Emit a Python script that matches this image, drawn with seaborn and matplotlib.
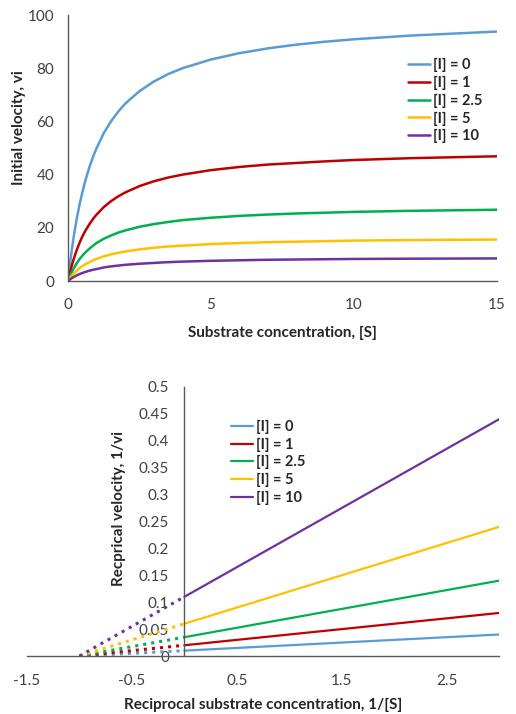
import numpy as np
import pandas as pd
import matplotlib
matplotlib.use("Agg")
import matplotlib.pyplot as plt
import seaborn as sns

# series labels and colours (Excel default palette)
labels = ["[I] = 0", "[I] = 1", "[I] = 2.5", "[I] = 5", "[I] = 10"]
colors = ["#5B9BD5", "#C00000", "#00B050", "#FFC000", "#7030A0"]

# top panel: initial velocity vs substrate concentration
s_vals = [0, 0.05, 0.1, 0.15, 0.2, 0.3, 0.4, 0.5, 0.6, 0.75, 0.9, 1, 1.25, 1.5, 1.75,
          2, 2.5, 3, 3.5, 4, 5, 6, 7, 8, 9, 10, 12, 15]
v_i0 = [0, 4.8, 9.1, 13.0, 16.7, 23.1, 28.6, 33.3, 37.5, 42.9, 47.4, 50.0, 55.6, 60.0, 63.6,
        66.7, 71.4, 75.0, 77.8, 80.0, 83.3, 85.7, 87.5, 88.9, 90.0, 90.9, 92.3, 93.8]
v_i1 = [0, 2.4, 4.5, 6.5, 8.3, 11.5, 14.3, 16.7, 18.8, 21.4, 23.7, 25.0, 27.8, 30.0, 31.8,
        33.3, 35.7, 37.5, 38.9, 40.0, 41.7, 42.9, 43.8, 44.4, 45.0, 45.5, 46.2, 46.9]
v_i25 = [0, 1.4, 2.6, 3.7, 4.8, 6.6, 8.2, 9.5, 10.7, 12.2, 13.5, 14.3, 15.9, 17.1, 18.2,
         19.0, 20.4, 21.4, 22.2, 22.9, 23.8, 24.5, 25.0, 25.4, 25.7, 26.0, 26.4, 26.8]
v_i5 = [0, 0.8, 1.5, 2.2, 2.8, 3.8, 4.8, 5.6, 6.3, 7.1, 7.9, 8.3, 9.3, 10.0, 10.6,
        11.1, 11.9, 12.5, 13.0, 13.3, 13.9, 14.3, 14.6, 14.8, 15.0, 15.2, 15.4, 15.6]
v_i10 = [0, 0.4, 0.8, 1.2, 1.5, 2.1, 2.6, 3.0, 3.4, 3.9, 4.3, 4.5, 5.1, 5.5, 5.8,
         6.1, 6.5, 6.8, 7.1, 7.3, 7.6, 7.8, 8.0, 8.1, 8.2, 8.3, 8.4, 8.5]

# bottom panel: Lineweaver-Burk (solid data, dotted extrapolation)
inv_s_solid = [0, 3]
inv_v_solid = [[0.01, 0.04], [0.02, 0.08], [0.035, 0.14], [0.06, 0.24], [0.11, 0.44]]
inv_s_extrap = [-1, 0]
inv_v_extrap = [[0, 0.01], [0, 0.02], [0, 0.035], [0, 0.06], [0, 0.11]]

sns.set_theme(style="white")
plt.rcParams["font.family"] = ["Lato", "DejaVu Sans"]

fig = plt.figure(figsize=(5.16, 7.14), dpi=100)
ax1 = fig.add_axes([0.1318, 0.6064, 0.8314, 0.3725])
ax2 = fig.add_axes([0.0523, 0.0812, 0.9147, 0.3768])

rows = []
for lab, vals in zip(labels, [v_i0, v_i1, v_i25, v_i5, v_i10]):
    for s, v in zip(s_vals, vals):
        rows.append({"S": s, "v": v, "series": lab})
df_top = pd.DataFrame(rows)

sns.lineplot(data=df_top, x="S", y="v", hue="series", hue_order=labels,
             palette=colors, estimator=None, sort=False, linewidth=1.8, ax=ax1)
ax1.set_xlim(0, 15)
ax1.set_ylim(0, 100)
ax1.set_xticks([0, 5, 10, 15])
ax1.set_yticks(range(0, 101, 20))
ax1.set_xlabel("Substrate concentration, [S]", fontsize=11, fontweight="bold", labelpad=10)
ax1.set_ylabel("Initial velocity, vi", fontsize=11, fontweight="bold")
ax1.yaxis.set_label_coords(-0.098, 0.575)
ax1.legend(loc="upper left", bbox_to_anchor=(0.78, 0.86), frameon=False,
           prop={"weight": "bold", "size": 10.5}, handlelength=1.5, handletextpad=0.2,
           labelspacing=0.25, borderaxespad=0)

for sp in ["top", "right"]:
    ax1.spines[sp].set_visible(False)
for sp in ["left", "bottom"]:
    ax1.spines[sp].set_color("#595959")
    ax1.spines[sp].set_linewidth(1.0)
ax1.tick_params(axis="both", length=0, labelsize=11, colors="#404040")
ax1.tick_params(axis="x", pad=12)
ax1.tick_params(axis="y", pad=10)

# bottom panel
for i, (lab, col) in enumerate(zip(labels, colors)):
    sns.lineplot(x=inv_s_extrap, y=inv_v_extrap[i], color=col, linestyle=":",
                 linewidth=2.2, ax=ax2, estimator=None, sort=False)
    sns.lineplot(x=inv_s_solid, y=inv_v_solid[i], color=col, linewidth=1.6,
                 ax=ax2, estimator=None, sort=False, label=lab)

ax2.set_xlim(-1.5, 3)
ax2.set_ylim(0, 0.5)
ax2.set_xticks([-1.5, -0.5, 0.5, 1.5, 2.5])
ax2.set_xticklabels(["-1.5", "-0.5", "0.5", "1.5", "2.5"])
ax2.set_yticks(np.arange(0, 0.501, 0.05))
ax2.set_yticklabels(["0", "0.05", "0.1", "0.15", "0.2", "0.25", "0.3", "0.35", "0.4", "0.45", "0.5"])
ax2.spines["left"].set_position(("data", 0))
for sp in ["top", "right"]:
    ax2.spines[sp].set_visible(False)
for sp in ["left", "bottom"]:
    ax2.spines[sp].set_color("#595959")
    ax2.spines[sp].set_linewidth(1.0)
ax2.tick_params(axis="both", length=0, labelsize=11, colors="#404040")
ax2.tick_params(axis="x", pad=13)
ax2.tick_params(axis="y", pad=11)
ax2.set_xlabel("Reciprocal substrate concentration, 1/[S]", fontsize=11,
               fontweight="bold", labelpad=7)
ax2.set_ylabel("Recprical velocity, 1/vi", fontsize=11, fontweight="bold")
ax2.yaxis.set_label_coords(0.21, 0.55)
ax2.legend(loc="upper left", bbox_to_anchor=(0.42, 0.9), frameon=False,
           prop={"weight": "bold", "size": 10.5}, handlelength=1.5, handletextpad=0.2,
           labelspacing=0.25, borderaxespad=0)

fig.savefig("out.png", dpi=100)
